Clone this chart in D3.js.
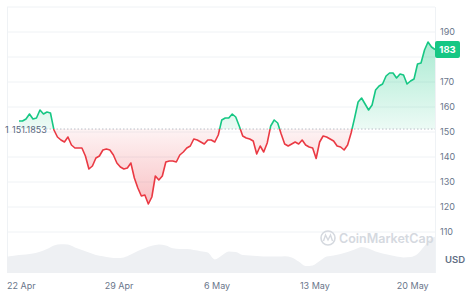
<!DOCTYPE html>
<html lang="en">
<head>
<meta charset="UTF-8">
<title>Price chart</title>
<script src="https://d3js.org/d3.v7.min.js"></script>
<style>
  body { margin: 0; background: #fff; }
  svg { display: block; font-family: Inter, "Noto Sans", sans-serif; }
</style>
</head>
<body>
<svg id="chart"></svg>
<script>
const width = 474, height = 303;

// price every 6 hours, from 21 Apr 21:00
const startTime = new Date(2024, 3, 21, 21);
const stepHours = 6;
const prices = [
  154.4, 154.4, 155.2, 157.2, 155.2, 155.6, 158.8, 157.2, 158.0, 157.6,
  150.8, 148.0, 146.8, 146.0, 148.0, 144.8, 143.6, 143.6, 143.6, 140.4,
  135.2, 136.4, 139.6, 140.4, 142.8, 143.2, 142.8, 140.8, 137.6, 136.0,
  135.2, 135.6, 137.6, 131.6, 127.6, 124.4, 124.8, 121.2, 124.0, 132.4,
  130.8, 132.4, 138.0, 138.4, 138.4, 138.0, 140.8, 142.0, 143.6, 144.4,
  147.2, 146.8, 146.0, 145.2, 146.8, 146.8, 146.0, 148.8, 154.8, 155.6,
  155.6, 157.2, 156.0, 152.4, 148.4, 147.6, 147.2, 146.4, 141.2, 144.4,
  142.0, 145.6, 152.4, 154.8, 153.6, 149.2, 145.2, 144.4, 145.2, 146.0,
  145.2, 146.8, 144.8, 144.0, 143.6, 139.4, 146.0, 148.4, 148.0, 147.2,
  146.4, 144.4, 144.0, 142.8, 144.8, 149.6, 155.6, 162.0, 163.6, 161.2,
  158.8, 160.8, 166.8, 168.4, 169.2, 172.4, 173.6, 173.6, 171.6, 173.2,
  172.8, 169.2, 170.4, 171.2, 177.2, 177.6, 182.8, 186.0, 184.0, 183.0
];

// volume every 12 hours (billions, rough), from 20 Apr 21:00
const volStart = new Date(2024, 3, 20, 21);
const volStepHours = 12;
const volumes = [
  4.0, 4.25, 4.5, 4.65, 4.9, 5.3, 6.0, 6.9, 7.2, 7.1,
  6.4, 5.75, 5.1, 4.5, 4.2, 3.9, 3.75, 3.9, 4.6, 5.5,
  6.2, 6.8, 7.1, 6.9, 6.2, 6.0, 6.0, 5.75, 5.45, 5.1,
  3.4, 4.4, 5.4, 5.25, 4.5, 4.4, 4.25, 4.1, 4.1, 4.1,
  4.2, 3.9, 2.9, 1.75, 1.9, 3.0, 4.1, 4.4, 4.75, 5.25,
  5.9, 6.5, 6.1, 5.4, 4.9, 4.5, 4.1, 3.9, 4.0, 4.75,
  6.75, 8.75, 9.25
];

const baseline = 151.1853;
const lastLabel = "183";
// 180 sits under the price badge, so it is not shown
const yTicks = [110, 120, 130, 140, 150, 160, 170, 190];
const gridValues = [110, 120, 130, 140, 150, 160, 170, 180, 190, 200];
const xTickDates = [new Date(2024, 3, 22), new Date(2024, 3, 29), new Date(2024, 4, 6),
                    new Date(2024, 4, 13), new Date(2024, 4, 20)];

const green = "#16c784", red = "#ea3943";

const priceData = prices.map((v, i) => ({ t: d3.timeHour.offset(startTime, i * stepHours), v }));
const volData = volumes.map((v, i) => ({ t: d3.timeHour.offset(volStart, i * volStepHours), v }));

const plotLeft = 7, plotRight = 435, plotTop = 7, plotBottom = 273;

const x = d3.scaleTime()
  .domain([priceData[0].t, priceData[priceData.length - 1].t])
  .range([19, plotRight]);
const y = d3.scaleLinear().domain([100, 200]).range([257, plotTop]);
const yVol = d3.scaleLinear().domain([0, 10]).range([plotBottom, plotBottom - 40]);

const svg = d3.select("#chart").attr("width", width).attr("height", height);
const defs = svg.append("defs");

defs.append("clipPath").attr("id", "plotClip")
  .append("rect").attr("x", plotLeft).attr("y", plotTop)
  .attr("width", plotRight - plotLeft).attr("height", plotBottom - plotTop);
defs.append("clipPath").attr("id", "above")
  .append("rect").attr("x", 0).attr("y", 0).attr("width", width).attr("height", y(baseline));
defs.append("clipPath").attr("id", "below")
  .append("rect").attr("x", 0).attr("y", y(baseline)).attr("width", width).attr("height", height);

const gGreen = defs.append("linearGradient").attr("id", "gGreen")
  .attr("gradientUnits", "userSpaceOnUse").attr("x1", 0).attr("x2", 0)
  .attr("y1", y(188)).attr("y2", y(baseline));
gGreen.append("stop").attr("offset", 0).attr("stop-color", green).attr("stop-opacity", 0.38);
gGreen.append("stop").attr("offset", 1).attr("stop-color", green).attr("stop-opacity", 0.08);

const gRed = defs.append("linearGradient").attr("id", "gRed")
  .attr("gradientUnits", "userSpaceOnUse").attr("x1", 0).attr("x2", 0)
  .attr("y1", y(baseline)).attr("y2", y(120));
gRed.append("stop").attr("offset", 0).attr("stop-color", red).attr("stop-opacity", 0.06);
gRed.append("stop").attr("offset", 1).attr("stop-color", red).attr("stop-opacity", 0.32);

// frame + grid
svg.append("g").selectAll("line").data(gridValues).join("line")
  .attr("x1", plotLeft).attr("x2", plotRight)
  .attr("y1", d => y(d)).attr("y2", d => y(d))
  .attr("stroke", "#eff2f5").attr("stroke-width", 1);
svg.append("line").attr("x1", plotLeft + 0.5).attr("x2", plotLeft + 0.5)
  .attr("y1", plotTop).attr("y2", plotBottom).attr("stroke", "#eff2f5");
svg.append("line").attr("x1", plotRight + 0.5).attr("x2", plotRight + 0.5)
  .attr("y1", plotTop).attr("y2", plotBottom).attr("stroke", "#eff2f5");

// volume
svg.append("path").datum(volData)
  .attr("clip-path", "url(#plotClip)")
  .attr("fill", "#eef0f3")
  .attr("d", d3.area().x(d => x(d.t)).y0(plotBottom).y1(d => yVol(d.v)).curve(d3.curveMonotoneX));

// watermark
const wm = svg.append("g").attr("fill", "none").attr("stroke", "#d5d9df");
wm.append("circle").attr("cx", 328).attr("cy", 238).attr("r", 7).attr("stroke-width", 1.6);
wm.append("path").attr("d", "M323.5,241 L325.5,235 L328,240 L330.5,235 L332.5,241").attr("stroke-width", 1.4);
svg.append("text").attr("x", 339).attr("y", 242.5).attr("fill", "#d5d9df")
  .attr("font-size", 12.5).attr("font-weight", 600).text("CoinMarketCap");

// areas
const areaFn = d3.area().x(d => x(d.t)).y0(y(baseline)).y1(d => y(d.v));
svg.append("path").datum(priceData).attr("clip-path", "url(#above)")
  .attr("fill", "url(#gGreen)").attr("d", areaFn);
svg.append("path").datum(priceData).attr("clip-path", "url(#below)")
  .attr("fill", "url(#gRed)").attr("d", areaFn);

// baseline
svg.append("line").attr("x1", 46).attr("x2", plotRight)
  .attr("y1", y(baseline)).attr("y2", y(baseline))
  .attr("stroke", "#b8bec8").attr("stroke-width", 1).attr("stroke-dasharray", "1.5,2");

// price line
const lineFn = d3.line().x(d => x(d.t)).y(d => y(d.v));
svg.append("path").datum(priceData).attr("clip-path", "url(#above)")
  .attr("fill", "none").attr("stroke", green).attr("stroke-width", 1.6)
  .attr("stroke-linejoin", "round").attr("d", lineFn);
svg.append("path").datum(priceData).attr("clip-path", "url(#below)")
  .attr("fill", "none").attr("stroke", red).attr("stroke-width", 1.6)
  .attr("stroke-linejoin", "round").attr("d", lineFn);

// baseline label
svg.append("text").attr("x", 5).attr("y", y(baseline) + 3.5)
  .attr("font-size", 9).attr("fill", "#58667e").text("1");
svg.append("text").attr("x", 12).attr("y", y(baseline) + 3.5)
  .attr("font-size", 9).attr("fill", "#58667e").text(d3.format(".4f")(baseline));

// y axis
const yAxis = svg.append("g").attr("transform", `translate(${plotRight + 5},0)`)
  .call(d3.axisRight(y).tickValues(yTicks).tickSize(0).tickPadding(0));
yAxis.select(".domain").remove();
yAxis.selectAll("text").attr("font-size", 9).attr("fill", "#6a768b")
  .attr("font-family", "Inter, 'Noto Sans', sans-serif");
svg.append("text").attr("x", 445).attr("y", 263).attr("font-size", 9.5)
  .attr("font-weight", 600).attr("fill", "#616e85").text("USD");

// last price badge
const last = priceData[priceData.length - 1];
svg.append("rect").attr("x", plotRight).attr("y", y(last.v) - 8.5).attr("width", 25).attr("height", 17)
  .attr("rx", 2).attr("fill", green);
svg.append("text").attr("x", plotRight + 12.5).attr("y", y(last.v) + 3.5).attr("text-anchor", "middle")
  .attr("font-size", 9.5).attr("font-weight", 700).attr("fill", "#fff").text(lastLabel);

// x axis
const xAxis = svg.append("g").attr("transform", "translate(0,283)")
  .call(d3.axisBottom(x).tickValues(xTickDates).tickSize(0).tickPadding(0)
    .tickFormat(d3.timeFormat("%-d %b")));
xAxis.select(".domain").remove();
xAxis.selectAll("text").attr("font-size", 9).attr("fill", "#6a768b")
  .attr("font-family", "Inter, 'Noto Sans', sans-serif");
</script>
</body>
</html>
